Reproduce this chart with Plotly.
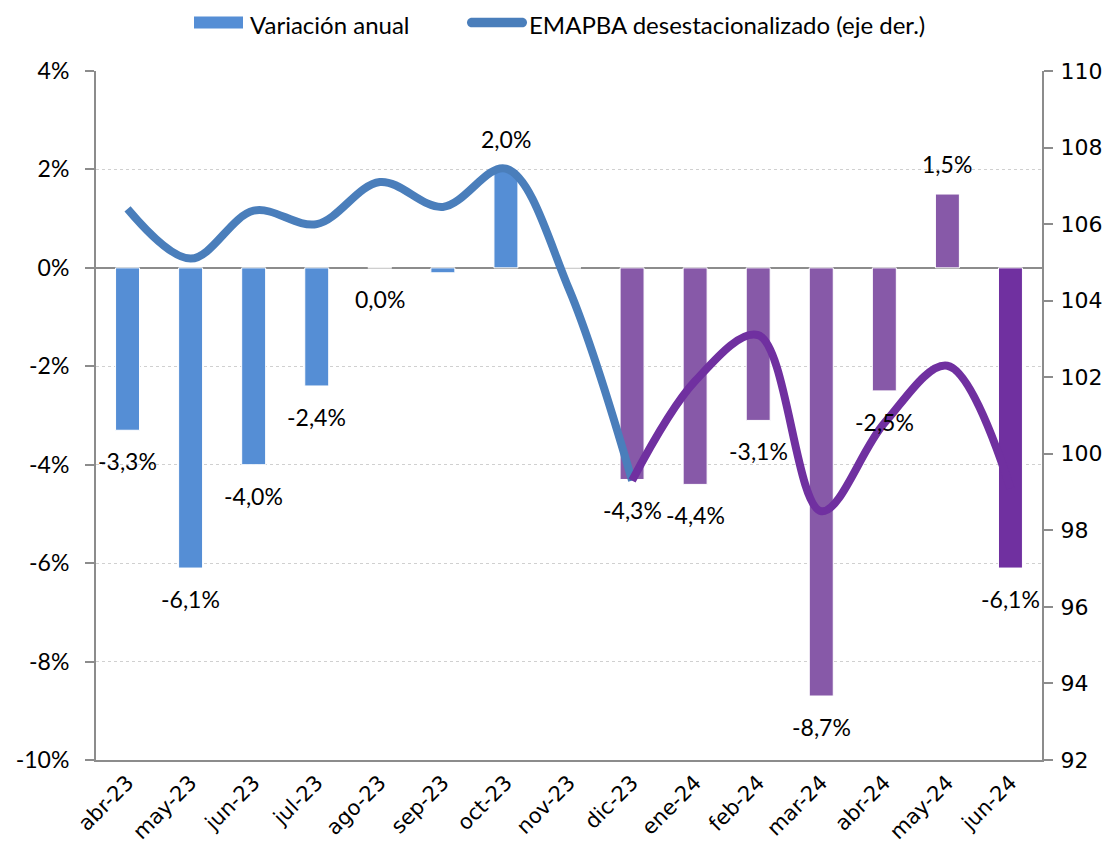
import plotly.graph_objects as go

categories = ["abr-23", "may-23", "jun-23", "jul-23", "ago-23", "sep-23", "oct-23", "nov-23",
              "dic-23", "ene-24", "feb-24", "mar-24", "abr-24", "may-24", "jun-24"]
variacion = [-3.3, -6.1, -4.0, -2.4, 0.0, -0.1, 2.0, 0.0, -4.3, -4.4, -3.1, -8.7, -2.5, 1.5, -6.1]
labels = ["-3,3%", "-6,1%", "-4,0%", "-2,4%", "0,0%", None, "2,0%", None,
          "-4,3%", "-4,4%", "-3,1%", "-8,7%", "-2,5%", "1,5%", "-6,1%"]
emapba = [106.4, 105.1, 106.35, 106.0, 107.1, 106.45, 107.45, 104.3,
          99.3, 101.9, 103.1, 98.5, 100.8, 102.3, 99.1]
bar_colors = ["#558ED5"] * 8 + ["#8759A8"] * 6 + ["#7030A0"]
split = 8  # index of dic-23 where line colour changes

left_vals = [4, 2, 0, -2, -4, -6, -8, -10]
left_text = ["4%", "2%", "0%", "-2%", "-4%", "-6%", "-8%", "-10%"]
right_vals = [92, 94, 96, 98, 100, 102, 104, 106, 108, 110]

BAR_NAME = "Variación anual"
LINE_NAME = "EMAPBA desestacionalizado (eje der.)"

AX = "#8C8C8C"
W, H = 1118, 852
ML, MR, MT, MB = 88, 84, 63, 100
OFF = 8  # page body offset
PW, PH = W - ML - MR, H - MT - MB


def px(X):
    return (X - OFF - ML) / PW


def py(Y):
    return 1 - (Y - OFF - MT) / PH


fig = go.Figure()

fig.add_trace(go.Bar(
    x=categories, y=variacion, name=BAR_NAME,
    marker=dict(color=bar_colors, line=dict(color="#FFFFFF", width=1)),
    width=0.38,
))
fig.add_trace(go.Scatter(
    x=categories[:split + 1], y=emapba[:split + 1], yaxis="y2",
    mode="lines", line=dict(color="#4A7EBB", width=8, shape="spline", smoothing=1.0),
    name=LINE_NAME,
))
fig.add_trace(go.Scatter(
    x=categories[split:], y=emapba[split:], yaxis="y2",
    mode="lines", line=dict(color="#7030A0", width=8, shape="spline", smoothing=1.0),
    name=LINE_NAME,
))

for c, v, t in zip(categories, variacion, labels):
    if t is None:
        continue
    fig.add_annotation(x=c, y=v, xref="x", yref="y", text=t, showarrow=False,
                       yshift=(30 if v > 0 else -31),
                       font=dict(family="Lato", size=23, color="#000000"))

# custom legend (keys drawn as shapes, labels as annotations)
KEY_Y = 22.5
shapes = [dict(type="rect", xref="paper", yref="paper",
               x0=px(194), x1=px(243), y0=py(KEY_Y + 6), y1=py(KEY_Y - 6),
               fillcolor="#558ED5", line=dict(width=0))]
# rounded line key
x0, x1, cy, r = 467, 527, KEY_Y, 4.8
k = 0.5523
pts = [
    ("M", [(x0 + r, cy - r)]),
    ("L", [(x1 - r, cy - r)]),
    ("C", [(x1 - r + k * r, cy - r), (x1, cy - k * r), (x1, cy)]),
    ("C", [(x1, cy + k * r), (x1 - r + k * r, cy + r), (x1 - r, cy + r)]),
    ("L", [(x0 + r, cy + r)]),
    ("C", [(x0 + r - k * r, cy + r), (x0, cy + k * r), (x0, cy)]),
    ("C", [(x0, cy - k * r), (x0 + r - k * r, cy - r), (x0 + r, cy - r)]),
]
path = ""
for cmd, coords in pts:
    path += cmd + " ".join(f"{px(X):.5f},{py(Y):.5f}" for X, Y in coords)
path += "Z"
shapes.append(dict(type="path", xref="paper", yref="paper", path=path,
                   fillcolor="#4A7EBB", line=dict(width=0)))

fig.add_annotation(xref="paper", yref="paper", x=px(248), y=py(KEY_Y + 1.5), xanchor="left",
                   yanchor="middle", text=BAR_NAME, showarrow=False,
                   font=dict(family="Lato", size=24, color="#000000"))
fig.add_annotation(xref="paper", yref="paper", x=px(527), y=py(KEY_Y + 1.5), xanchor="left",
                   yanchor="middle", text=LINE_NAME, showarrow=False,
                   font=dict(family="Lato", size=24, color="#000000"))

fig.update_layout(
    width=W, height=H,
    margin=dict(l=ML, r=MR, t=MT, b=MB),
    paper_bgcolor="white", plot_bgcolor="white",
    showlegend=False,
    shapes=shapes,
    xaxis=dict(type="category", tickangle=-45, showline=True, linecolor=AX, linewidth=2,
               ticks="", showgrid=False, automargin=False,
               tickfont=dict(family="DejaVu Sans", size=21, color="#000000")),
    yaxis=dict(range=[-10, 4], tickvals=left_vals, ticktext=left_text,
               showline=True, linecolor=AX, linewidth=2, ticks="outside", ticklen=9,
               tickcolor=AX, tickwidth=2, ticklabelstandoff=11, automargin=False,
               showgrid=True, gridcolor="#D0D0D0", griddash="dot", gridwidth=1,
               zeroline=True, zerolinecolor=AX, zerolinewidth=2,
               tickfont=dict(family="Lato", size=23, color="#000000")),
    yaxis2=dict(range=[92, 110], tickvals=right_vals, overlaying="y", side="right",
                showline=True, linecolor=AX, linewidth=2, ticks="outside", ticklen=9,
                tickcolor=AX, tickwidth=2, showgrid=False, zeroline=False,
                ticklabelstandoff=3, automargin=False,
                tickfont=dict(family="DejaVu Sans", size=22, color="#000000")),
)

fig.write_html("out.html")
